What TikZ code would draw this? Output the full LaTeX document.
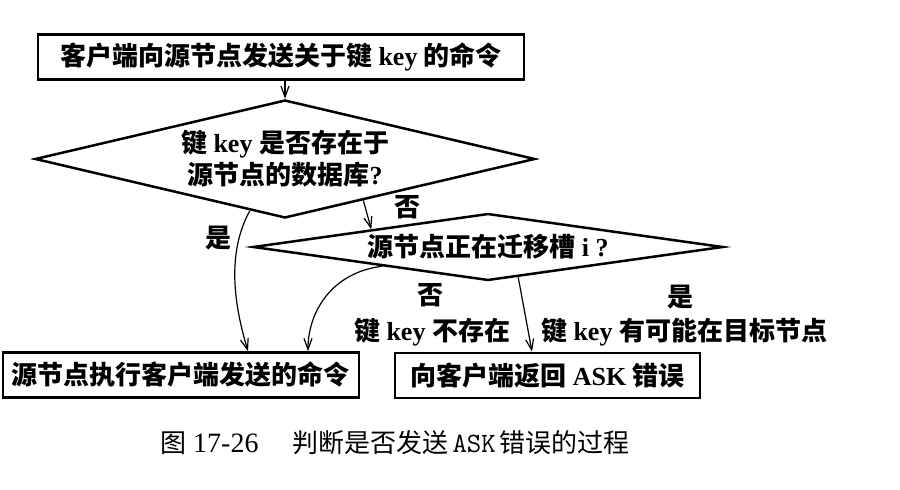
\documentclass[tikz,border=0pt]{standalone}
\usepackage{fontspec}
\setmainfont{Liberation Serif}
\newfontfamily\cjk{Noto Sans CJK SC}
\usetikzlibrary{shapes.geometric,arrows.meta,calc}
\begin{document}
\begin{tikzpicture}[x=1pt,y=-1pt,
  txt/.style={font=\fontsize{26pt}{32pt}\selectfont\bfseries},
  boxnode/.style={txt,draw,line width=2.7pt,inner sep=0pt,minimum height=45pt},
  decision/.style={txt,draw,diamond,line width=2.5pt,inner sep=0pt,align=center},
  conn/.style={line width=1.2pt,-{Straight Barb[length=11pt,width=8pt,line width=1.2pt]}},
  lbl/.style={txt,inner sep=0pt},
  capstyle/.style={font=\fontsize{26pt}{30pt}\selectfont,inner sep=0pt}]
\useasboundingbox (0,0) rectangle (900,490);

\node[boxnode,minimum width=486pt] (top) at (281,57)
  {{\cjk 客户端向源节点发送关于键} key {\cjk 的命令}};
\node[decision,minimum width=500pt,minimum height=118pt,shape aspect=4.2] (d1) at (285,159)
  {{\cjk 键} key {\cjk 是否存在于}\\{\cjk 源节点的数据库}?};
\node[decision,minimum width=470pt,minimum height=67pt,shape aspect=7] (d2) at (488,247)
  {{\cjk 源节点正在迁移槽} i ?};
\node[boxnode,minimum width=356pt] (b1) at (181,375)
  {{\cjk 源节点执行客户端发送的命令}};
\node[boxnode,minimum width=305pt] (b2) at (547.5,375.5)
  {{\cjk 向客户端返回} ASK {\cjk 错误}};

\draw[conn] (top.south -| d1.north) -- (d1.north);
\draw[conn] ($(d1.south)!0.312!(d1.east)$) -- ($(d2.north)!0.494!(d2.west)$);
\draw[conn] ($(d1.south)!0.14!(d1.west)$) .. controls +(-25,45) and +(-12,-40) .. ([xshift=67pt]b1.north);
\draw[conn] ($(d2.south)!0.447!(d2.west)$) .. controls +(-50,6) and +(0,-40) .. ([xshift=127pt]b1.north);
\draw[conn] ($(d2.south)!0.128!(d2.east)$) -- ([xshift=-15.5pt]b2.north);

\node[lbl] (yes1) at (218,238) {\cjk 是};
\node[lbl] (no1) at (407,207) {\cjk 否};
\node[lbl] (no2) at (430,295) {\cjk 否};
\node[lbl] (no2t) at (432,332) {{\cjk 键} key {\cjk 不存在}};
\node[lbl] (yes2) at (680,297) {\cjk 是};
\node[lbl] (yes2t) at (684,332) {{\cjk 键} key {\cjk 有可能在目标节点}};

\node[capstyle,anchor=west] (cap) at (160,443)
  {{\cjk 图}\hspace{7pt}{\fontsize{28pt}{30pt}\selectfont 17-26}\hspace{34pt}{\cjk 判断是否发送}\hspace{4pt}{\ttfamily\fontsize{28pt}{30pt}\selectfont ASK}\hspace{4pt}{\cjk 错误的过程}};
\end{tikzpicture}
\end{document}
